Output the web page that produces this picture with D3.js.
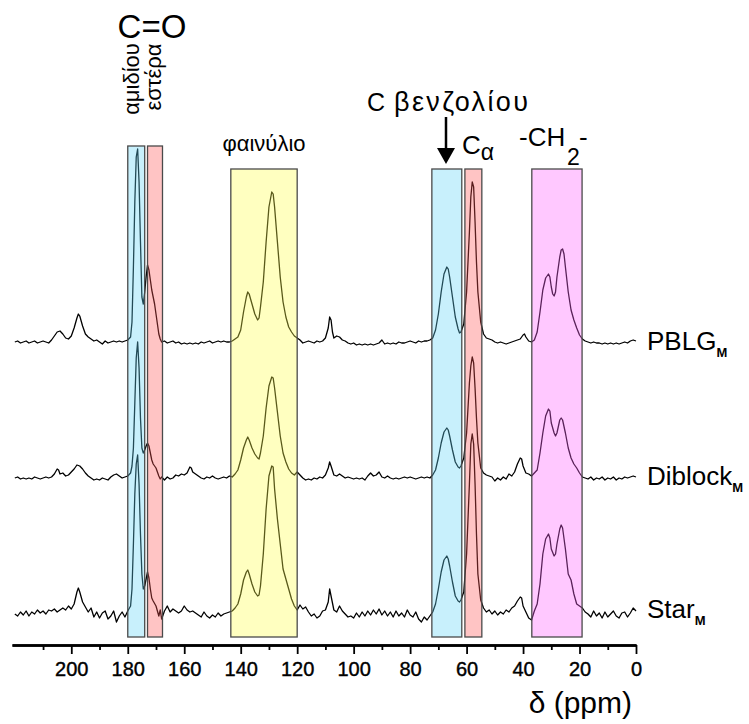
<!DOCTYPE html>
<html><head><meta charset="utf-8">
<script src="https://cdn.jsdelivr.net/npm/d3@7"></script>
<style>body{margin:0;background:#fff}text{font-family:"Liberation Sans",Arial,sans-serif;fill:#000}</style>
</head><body>
<svg id="c" width="749" height="724"></svg>
<script>
// ---------- data (ppm, intensity) ----------
const seriesNames = ["PBLG", "Diblock", "Star"];
const seriesSub = ["M", "M", "M"];
const pblg = [[220,0],[219,1],[218,-1],[217,0],[216,1],[215,-1],[214,0],[213,1],[212,-1],[211,0],[210,1],[209,0],[208,-1],[207,2],[206,6],[205,10],[204,11],[203,8],[202,4],[201,3],[200,6],[199,14],[198,24],[197.5,28],[197,26],[196,16],[195,8],[194,5],[193,3],[192,1],[191,2],[190,0],[189,-2],[188,1],[187,-1],[186,0],[185,1],[184,0],[183,1],[182,0],[181,1],[180,2],[179,5],[178.5,20],[178,75],[177.5,140],[177,185],[176.5,193],[176,160],[175.5,100],[175,45],[174.5,38],[174,50],[173.5,65],[173,77],[172.5,72],[172,62],[171.5,52],[171,45],[170.5,38],[170,28],[169.5,18],[169,8],[168.5,3],[168,0],[167,1],[166,-1],[165,0],[164,1],[163,-1],[162,0],[161,-2],[160,-1],[159,-2],[158,-1],[157,-2],[156,-1],[155,-2],[154,0],[153,-1],[152,0],[151,1],[150,-1],[149,0],[148,1],[147,0],[146,1],[145,0],[144,0],[143,1],[142,3],[141,5],[140,12],[139,30],[138,45],[137.5,50],[137,48],[136,38],[135,28],[134,22],[133.5,24],[133,35],[132,60],[131,100],[130,135],[129,150],[128.5,148],[128,135],[127,100],[126,65],[125,40],[124,25],[123,15],[122,10],[121,6],[120,4],[119,2],[118,-1],[117,0],[116,1],[115,0],[114,-1],[113,1],[112,0],[111,1],[110,4],[109,14],[108.5,25],[108,22],[107.5,10],[107,4],[106,6],[105,5],[104,2],[103,1],[102,-1],[101,-2],[100,-1],[99,-3],[98,-2],[97,-3],[96,-2],[95,-3],[94,-2],[93,-3],[92,-2],[91,-1],[90,2],[89,-2],[88,-1],[87,-2],[86,-1],[85,-2],[84,0],[83,-1],[82,-1],[81,0],[80,1],[79,0],[78,-1],[77,1],[76,0],[75,1],[74,1],[73,2],[72,4],[71,12],[70,28],[69,50],[68,68],[67,75],[66.5,73],[66,65],[65,45],[64,25],[63,13],[62.5,9],[62,10],[61,18],[60,50],[59,110],[58.5,145],[58,160],[57.5,155],[57,120],[56.5,80],[56,50],[55,20],[54,8],[53,4],[52,3],[51,2],[50,0],[49,-1],[48,0],[47,-1],[46,-2],[45,-1],[44,0],[43,1],[42,2],[41,3],[40,7],[39.5,8],[39,5],[38,1],[37,0],[36,2],[35,10],[34,30],[33,52],[32,64],[31,68],[30.5,65],[30,55],[29.5,48],[29,46],[28.5,50],[28,65],[27,85],[26.5,92],[26,93],[25.5,88],[25,75],[24,50],[23,32],[22,22],[21,14],[20,7],[19,3],[18,1],[17,0],[16,-1],[15,0],[14,-1],[13,-1],[12,-2],[11,-1],[10,-2],[9,-1],[8,-2],[7,-1],[6,-2],[5,-1],[4,0],[3,-1],[2,1],[1,2],[0,1]];
const diblock = [[220,0],[219,1],[218,-1],[217,0],[216,-1],[215,0],[214,-1],[213,1],[212,0],[211,-1],[210,0],[209,1],[208,0],[207,1],[206,4],[205,9],[204.5,8],[204,4],[203,5],[202,2],[201,3],[200,6],[199,9],[198,13],[197,12],[196,9],[195,5],[194,2],[193,0],[192,-2],[191,-1],[190,-2],[189,0],[188,-1],[187,-2],[186,1],[185,3],[184,4],[183,2],[182,0],[181,1],[180,2],[179,5],[178.5,12],[178,30],[177.5,75],[177,120],[176.5,136],[176,110],[175.5,60],[175,30],[174.5,25],[174,28],[173.5,32],[173,35],[172.5,32],[172,25],[171.5,18],[171,14],[170,10],[169.5,6],[169,2],[168.5,-1],[168,1],[167,-2],[166,1],[165,-1],[164,0],[163,3],[162,2],[161,4],[160,3],[159,5],[158,11],[157.5,10],[157,6],[156,4],[155,2],[154,0],[153,-1],[152,1],[151,0],[150,2],[149,0],[148,-1],[147,0],[146,1],[145,0],[144,2],[143,1],[142,4],[141,8],[140,18],[139,30],[138,38],[137.5,41],[137,38],[136,30],[135,24],[134,20],[133.5,19],[133,25],[132,42],[131,70],[130,92],[129,101],[128.5,100],[128,90],[127,66],[126,42],[125,25],[124,16],[123,9],[122,5],[121,3],[120,6],[119,3],[118,0],[117,-2],[116,-1],[115,-2],[114,0],[113,-1],[112,1],[111,0],[110,3],[109,10],[108.5,16],[108,12],[107,3],[106,2],[105,4],[104,2],[103,0],[102,1],[101,0],[100,-1],[99,0],[98,-1],[97,0],[96,-2],[95,2],[94,5],[93,2],[92,3],[91,6],[90,1],[89,0],[88,2],[87,0],[86,-1],[85,0],[84,-1],[83,0],[82,1],[81,0],[80,1],[79,0],[78,-1],[77,0],[76,1],[75,0],[74,1],[73,0],[72,3],[71,8],[70,20],[69,35],[68,46],[67,50],[66.5,48],[66,42],[65,28],[64,16],[63,11],[62.5,10],[62,12],[61,20],[60,45],[59,95],[58.5,112],[58,121],[57.5,115],[57,90],[56.5,60],[56,35],[55,10],[54,5],[53,3],[52,2],[51,1],[50,-3],[49,0],[48,-2],[47,1],[46,-1],[45,4],[44,2],[43,6],[42,14],[41,20],[40.5,19],[40,12],[39,5],[38,4],[37,2],[36,5],[35,8],[34,25],[33,45],[32,62],[31,69],[30.5,67],[30,55],[29,45],[28.5,42],[28,45],[27,58],[26.5,60],[26,58],[25,45],[24,30],[23,20],[22,14],[21,10],[20,5],[19,1],[18,0],[17,-1],[16,1],[15,-2],[14,0],[13,-1],[12,1],[11,-2],[10,0],[9,-1],[8,1],[7,-2],[6,0],[5,-1],[4,1],[3,0],[2,1],[1,2],[0,1]];
const star = [[220,0],[219,-2],[218,2],[217,-1],[216,3],[215,-2],[214,2],[213,0],[212,4],[211,1],[210,3],[209,0],[208,4],[207,3],[206,5],[205,2],[204,4],[203,6],[202,4],[201,8],[200,5],[199,10],[198,22],[197.5,26],[197,22],[196,12],[195,7],[194,2],[193,6],[192,-3],[191,2],[190,-4],[189,1],[188,3],[187,-5],[186,-2],[185,3],[184,-8],[183,-2],[182,2],[181,-3],[180,3],[179,8],[178.5,25],[178,70],[177.5,120],[177,150],[176.5,159],[176,130],[175.5,80],[175,40],[174.5,25],[174,28],[173.5,35],[173,42],[172.5,36],[172,25],[171.5,16],[171,13],[170,8],[169.5,3],[169,-2],[168.5,4],[168,-5],[167,3],[166,8],[165,2],[164,5],[163,3],[162,1],[161,3],[160,8],[159,4],[158,2],[157,3],[156,1],[155,-1],[154,-3],[153,2],[152,-2],[151,-4],[150,-1],[149,-3],[148,1],[147,-2],[146,0],[145,1],[144,2],[143,3],[142,6],[141,10],[140,20],[139,34],[138,42],[137.5,44],[137,40],[136,30],[135,22],[134,18],[133.5,19],[133,28],[132,60],[131,105],[130,138],[129,148],[128.5,147],[128,125],[127,95],[126,70],[125,45],[124,35],[123,25],[122,15],[121,8],[120,4],[119,9],[118,5],[117,7],[116,2],[115,-2],[114,0],[113,-4],[112,-2],[111,3],[110,4],[109,12],[108.5,25],[108,18],[107,4],[106,2],[105,8],[104,3],[103,0],[102,-3],[101,-2],[100,-4],[99,1],[98,-3],[97,2],[96,-2],[95,3],[94,-1],[93,4],[92,0],[91,5],[90,-1],[89,3],[88,-2],[87,2],[86,-3],[85,3],[84,-2],[83,1],[82,-3],[81,4],[80,-1],[79,-3],[78,2],[77,-5],[76,-8],[75,-3],[74,-6],[73,-2],[72,2],[71,10],[70,25],[69,42],[68,54],[67,58],[66.5,55],[66,48],[65,32],[64,18],[63,13],[62.5,12],[62,14],[61,22],[60,60],[59,130],[58.5,170],[58,180],[57.5,170],[57,130],[56.5,80],[56,40],[55,14],[54,6],[53,2],[52,4],[51,0],[50,3],[49,-1],[48,2],[47,0],[46,4],[45,2],[44,6],[43,8],[42,13],[41,17],[40.5,16],[40,8],[39,2],[38,-4],[37,-6],[36,3],[35,10],[34,30],[33,60],[32,75],[31,80],[30.5,76],[30,65],[29,58],[28.5,60],[28,70],[27,85],[26.5,89],[26,86],[25,65],[24,40],[23,34],[22,20],[21,10],[20,8],[19,6],[18,2],[17,0],[16,-3],[15,3],[14,-2],[13,1],[12,-4],[11,2],[10,-3],[9,0],[8,3],[7,-2],[6,-4],[5,1],[4,2],[3,-3],[2,1],[1,6],[0,3]];
const majorTicks = [200,180,160,140,120,100,80,60,40,20,0];
const minorTicks = [210,190,170,150,130,110,90,70,50,30,10];
const bandFrom = [180,173,143.5,72.3,60.6,36.9];
const bandTo   = [174,167.7,120,61.7,54.6,19.1];
const bandKind = ["blue","red","yellow","blue","red","pink"];
const xLabel = "δ (ppm)";

// ---------- layout / style ----------
const svg = d3.select("#c");
const x = d3.scaleLinear().domain([221, 0]).range([12, 636]);
const y = d3.scaleLinear().domain([0, 500]).range([614, 114]);
const offsets = [272, 136, 0];
const bandColors = {blue:"rgb(98,212,246)", red:"rgb(255,86,86)", yellow:"rgb(255,255,75)", pink:"rgb(255,98,255)"};
const bandTops = [146,146,169,169,169,169];
const bandBottom = 637;

const allSeries = [pblg, diblock, star];
const line = d3.line().x(d => x(d[0])).y(d => y(d[1]));
allSeries.forEach((s, i) => {
  svg.append("path").datum(s.map(d => [d[0], d[1] + offsets[i]]))
    .attr("d", line).attr("fill", "none").attr("stroke", "#000")
    .attr("stroke-width", 1.3).attr("stroke-linejoin", "round");
});

// bands over lines (translucent)
svg.selectAll("rect.band").data(bandFrom).enter().append("rect")
  .attr("x", (d, i) => x(d)).attr("width", (d, i) => x(bandTo[i]) - x(d))
  .attr("y", (d, i) => bandTops[i]).attr("height", (d, i) => bandBottom - bandTops[i])
  .attr("fill", (d, i) => bandColors[bandKind[i]]).attr("fill-opacity", 0.35)
  .attr("stroke", "#4a4a4a").attr("stroke-width", 1.3);

// axis
const axisY = 645;
const gMinor = svg.append("g").attr("transform", `translate(0,${axisY})`)
  .call(d3.axisBottom(x).tickValues(minorTicks).tickSize(5).tickSizeOuter(0).tickFormat(""));
const gMajor = svg.append("g").attr("transform", `translate(0,${axisY})`)
  .call(d3.axisBottom(x).tickValues(majorTicks).tickSize(9).tickSizeOuter(0).tickPadding(8).tickFormat(d3.format("d")));
[gMinor, gMajor].forEach(g => {
  g.select(".domain").attr("stroke", "#000").attr("stroke-width", 2.6);
  g.selectAll(".tick line").attr("stroke", "#000").attr("stroke-width", 1.8);
});
gMajor.selectAll(".tick text").attr("font-family", '"Liberation Sans Narrow","Arial Narrow","Liberation Sans",sans-serif')
  .attr("font-size", 20).attr("fill", "#000").attr("stroke", "#000").attr("stroke-width", 0.4);

svg.append("text").attr("x", 632).attr("y", 713).attr("text-anchor", "end")
  .attr("font-size", 30).text(xLabel);

// series labels
const labelY = [350, 485, 618];
seriesNames.forEach((n, i) => {
  const t = svg.append("text").attr("x", 647).attr("y", labelY[i]).attr("font-size", 26);
  t.append("tspan").text(n);
  t.append("tspan").attr("font-size", 13).attr("font-weight", "bold").attr("dy", 7).text(seriesSub[i]);
});

// annotations
svg.append("text").attr("x", 152).attr("y", 38).attr("text-anchor", "middle").attr("font-size", 33).text("C=O");
svg.append("text").attr("transform", "translate(139,79) rotate(-90)").attr("text-anchor", "middle").attr("font-size", 22).text("αμιδίου");
svg.append("text").attr("transform", "translate(161,77) rotate(-90)").attr("text-anchor", "middle").attr("font-size", 22).text("εστέρα");
svg.append("text").attr("x", 264).attr("y", 151).attr("text-anchor", "middle").attr("font-size", 22).text("φαινύλιο");
svg.append("text").attr("x", 367).attr("y", 111).attr("font-size", 25).text("C");
svg.append("text").attr("x", 394).attr("y", 111).attr("font-size", 27)
  .attr("textLength", 134).attr("lengthAdjust", "spacing").text("βενζολίου");
svg.append("line").attr("x1", 446).attr("x2", 446).attr("y1", 117).attr("y2", 150).attr("stroke", "#000").attr("stroke-width", 2.5);
svg.append("path").attr("d", "M437,148 L455,148 L446,164 Z").attr("fill", "#000");
const ca = svg.append("text").attr("x", 462).attr("y", 154).attr("font-size", 26);
ca.append("tspan").text("C");
ca.append("tspan").attr("font-size", 23).attr("dy", 6).text("α");
svg.append("text").attr("x", 519).attr("y", 146).attr("font-size", 26).text("-CH");
svg.append("text").attr("x", 567).attr("y", 165).attr("font-size", 23).text("2");
svg.append("text").attr("x", 579).attr("y", 146).attr("font-size", 26).text("-");
</script>
</body></html>
